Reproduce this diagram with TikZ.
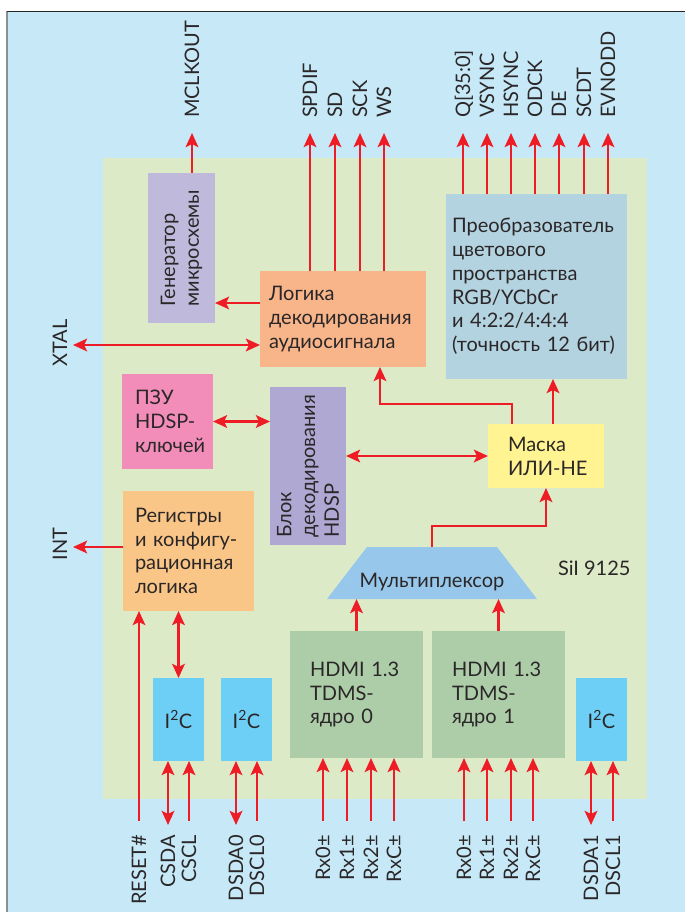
\documentclass[tikz,border=0pt]{standalone}
\usepackage{fontspec}
\setmainfont{Lato}
\usetikzlibrary{arrows.meta}
\definecolor{bgblue}{HTML}{C6E8F7}
\definecolor{framegray}{HTML}{8A8F94}
\definecolor{chipgreen}{HTML}{DDEAC8}
\definecolor{genpurple}{HTML}{BFBADC}
\definecolor{logicorange}{HTML}{F8B58A}
\definecolor{convblue}{HTML}{B3D3E0}
\definecolor{rompink}{HTML}{F28DBA}
\definecolor{hdsppurple}{HTML}{AFA8D3}
\definecolor{regorange}{HTML}{FAC687}
\definecolor{maskyellow}{HTML}{FFF491}
\definecolor{muxblue}{HTML}{97C8EB}
\definecolor{coregreen}{HTML}{ADCCA8}
\definecolor{i2cblue}{HTML}{6DCFF6}
\definecolor{sigred}{HTML}{EE1C25}
\definecolor{txtdark}{HTML}{2B2728}
\tikzset{
	box/.style={inner sep=0pt, outer sep=0pt, align=left, text=txtdark,
			font=\fontsize{20}{23.8}\selectfont,
			execute at begin node={\hyphenpenalty=10000\exhyphenpenalty=10000}},
	pin/.style={rotate=90, inner sep=0pt, outer sep=0pt, text=txtdark,
			text height=14.3pt, text depth=0pt, font=\fontsize{20}{24}\selectfont},
	sig/.style={draw=sigred, line width=2.8pt, >={Stealth[length=14pt,width=12.5pt,inset=3pt]}, ->},
	dsig/.style={sig, <->}
}

\begin{document}
\begin{tikzpicture}[x=1pt,y=-1pt]
		\useasboundingbox (0,0) rectangle (685,912);

		% Page and chip area
		\fill[bgblue] (7,11) rectangle (685,912);
		\draw[line width=1.6pt, framegray] (7,912) -- (7,11);
		\draw[line width=0.8pt, black!85] (7,11) -- (685,11);
		\fill[chipgreen] (103,158) rectangle (647,799);

		% Blocks
		\node[box, fill=genpurple, rotate=90, minimum width=150pt, minimum height=67pt] (gen) at (181.5,248) {Генератор\\микросхемы};
		\node[box, fill=logicorange, minimum width=166pt, minimum height=96pt, text width=148pt] (logic) at (343,319) {Логика\\декодирования\\аудиосигнала};
		\node[box, fill=convblue, minimum width=181pt, minimum height=185pt, text width=169pt] (conv) at (536.5,286.5) {Преобразователь\\цветового\\пространства\\RGB/YCbCr\\и~4:2:2/4:4:4\\(точность~12~бит)};
		\node[box, fill=rompink, minimum width=91pt, minimum height=95pt, text width=65pt] (rom) at (167.5,421.5) {ПЗУ\\HDSP-\\ключей};
		\node[box, fill=hdsppurple, rotate=90, minimum width=158pt, minimum height=76pt] (hdsp) at (308,466) {Блок\\декодирования\\HDSP};
		\node[box, fill=regorange, minimum width=131pt, minimum height=120pt, text width=107pt] (reg) at (188.5,551) {Регистры\\и~конфигу-\\рационная\\логика};
		\node[box, fill=maskyellow, minimum width=116pt, minimum height=64pt, text width=76pt] (mask) at (546,456) {Маска\\ИЛИ-НЕ};
		\fill[muxblue] (327,599) -- (367,547) -- (497,547) -- (537,599) -- cycle;
		\node[box, minimum width=130pt, minimum height=52pt, text height=28.6pt, text depth=0pt] (mux) at (432,573) {Мультиплексор};
		\node[box, fill=coregreen, minimum width=133pt, minimum height=127pt, text width=93pt] (core0) at (356.5,694.5) {HDMI~1.3\\TDMS-\\ядро~0};
		\node[box, fill=coregreen, minimum width=133pt, minimum height=127pt, text width=93pt] (core1) at (498.5,694.5) {HDMI~1.3\\TDMS-\\ядро~1};
		\node[box, fill=i2cblue, minimum width=51pt, minimum height=83pt] (i2ca) at (178.5,719.5) {I\textsuperscript{2}C};
		\node[box, fill=i2cblue, minimum width=51pt, minimum height=83pt] (i2cb) at (246.5,719.5) {I\textsuperscript{2}C};
		\node[box, fill=i2cblue, minimum width=51pt, minimum height=83pt] (i2cc) at (601.5,719.5) {I\textsuperscript{2}C};
		\node[box, anchor=west] (sil) at (558,568) {SiI 9125};

		% Pins on top
		\foreach \x/\lab/\n in {192/MCLKOUT/mclk, 310/SPDIF/spdif, 335/SD/sd, 360/SCK/sck, 384/WS/ws,
				463/Q[35:0]/q, 487/VSYNC/vsync, 511/HSYNC/hsync, 535/ODCK/odck, 559/DE/de, 584/SCDT/scdt, 608/EVNODD/evnodd}
			\node[pin, anchor=west] (\n) at (\x,118) {\lab};
		\draw[sig] (gen.east -| mclk.west) -- ([yshift=-15pt]mclk.west);
		\foreach \n in {spdif,sd,sck,ws}
			\draw[sig] (logic.north -| \n.west) -- ([yshift=-15pt]\n.west);
		\foreach \n in {q,vsync,hsync,odck,de,scdt,evnodd}
			\draw[sig] (conv.north -| \n.west) -- ([yshift=-15pt]\n.west);

		% Pins on the left
		\node[pin] (xtal) at (60,343) {XTAL};
		\node[pin] (int) at (60,544) {INT};
		\coordinate (xtalend) at (73,345);
		\coordinate (intend) at (73,547);
		\draw[dsig] (xtalend) -- (xtalend -| logic.west);
		\draw[sig] (intend -| reg.west) -- (intend);

		% Pins at the bottom
		\foreach \x/\lab/\n in {139/RESET\#/rst, 168/CSDA/csda, 189/CSCL/cscl, 236/DSDA0/dsdaa, 257/DSCL0/dscla,
				323/Rx0±/rxa0, 347/Rx1±/rxa1, 371/Rx2±/rxa2, 394/RxC±/rxac,
				464/Rx0±/rxb0, 487/Rx1±/rxb1, 511/Rx2±/rxb2, 533/RxC±/rxbc, 591/DSDA1/dsdab, 613/DSCL1/dsclb}
			\node[pin, anchor=east] (\n) at (\x,835) {\lab};
		\draw[sig] ([yshift=14pt]rst.east) -- (rst.east |- reg.south);
		\draw[dsig] (i2ca.south -| csda.east) -- ([yshift=10pt]csda.east);
		\draw[sig] ([yshift=14pt]cscl.east) -- (i2ca.south -| cscl.east);
		\draw[dsig] (i2cb.south -| dsdaa.east) -- ([yshift=10pt]dsdaa.east);
		\draw[sig] ([yshift=14pt]dscla.east) -- (i2cb.south -| dscla.east);
		\draw[dsig] (i2cc.south -| dsdab.east) -- ([yshift=10pt]dsdab.east);
		\draw[sig] ([yshift=14pt]dsclb.east) -- (i2cc.south -| dsclb.east);
		\foreach \n in {rxa0,rxa1,rxa2,rxac}
			\draw[sig] ([yshift=14pt]\n.east) -- (core0.south -| \n.east);
		\foreach \n in {rxb0,rxb1,rxb2,rxbc}
			\draw[sig] ([yshift=14pt]\n.east) -- (core1.south -| \n.east);

		% Internal links
		\draw[sig] ([yshift=16pt]logic.west) -- ([yshift=16pt]logic.west -| gen.south);
		\draw[dsig] (rom.east) -- (rom.east -| hdsp.north);
		\draw[dsig] (mask.west -| hdsp.south) -- (mask.west);
		\draw[sig] ([xshift=-34pt]mask.north) -- ++(0,-20) -| ([xshift=37pt]logic.south);
		\draw[sig] ([xshift=7pt]mask.north) -- ([xshift=7pt]mask.north |- conv.south);
		\draw[sig] (mux.north) -- ++(0,-21) -| (mask.south);
		\draw[sig] (core0.north) -- (core0.north |- mux.south);
		\draw[sig] (core1.north) -- (core1.north |- mux.south);
		\draw[dsig] (i2ca.north) -- (i2ca.north |- reg.south);
	\end{tikzpicture}
\end{document}
